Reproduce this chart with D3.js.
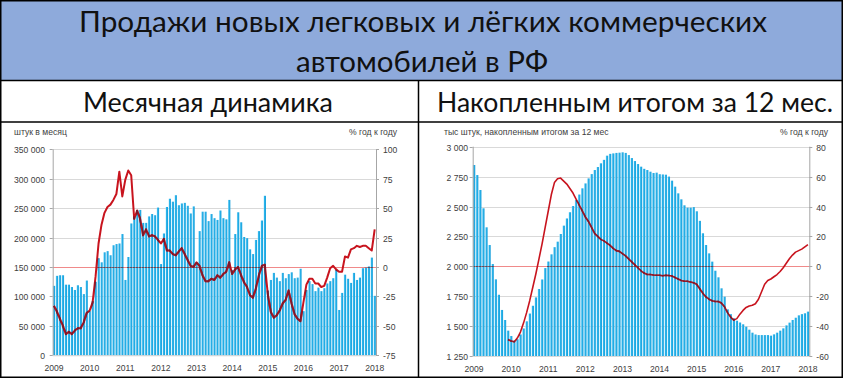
<!DOCTYPE html>
<html>
<head>
<meta charset="utf-8">
<script src="https://cdn.jsdelivr.net/npm/d3@7"></script>
<style>
  body { margin: 0; background: #fff; }
  svg text { font-family: "Liberation Sans", Arial, sans-serif; }
</style>
</head>
<body>
<script>
// categories: Jan 2009 .. Jan 2018
var years = ["2009", "2010", "2011", "2012", "2013", "2014", "2015", "2016", "2017", "2018"];
var months = [];
years.forEach(function(y) {
  for (var m = 1; m <= 12; m++) {
    if (y === "2018" && m > 1) break;
    months.push(y + "-" + (m < 10 ? "0" + m : m));
  }
});

// left panel: штук в месяц (тыс)
var monthlySales = [
  118, 135, 136, 136, 120, 120, 116, 111, 119, 116, 104, 127,
  75, 92, 125, 165, 158, 175, 177, 170, 187, 189, 190, 206,
  128, 167, 224, 236, 247, 247, 225, 225, 236, 240, 238, 251,
  155, 207, 252, 266, 261, 272, 255, 258, 259, 254, 241, 253,
  158, 211, 244, 244, 228, 240, 233, 230, 246, 233, 231, 264,
  145, 206, 243, 226, 201, 199, 180, 172, 196, 211, 229, 271,
  110, 128, 140, 132, 126, 140, 131, 138, 141, 131, 132, 147,
  75, 111, 126, 121, 109, 115, 109, 114, 122, 126, 131, 145,
  77, 106, 137, 130, 123, 140, 128, 132, 148, 149, 151, 166,
  101
];
// left panel: % год к году
var monthlyYoY = [
  -33, -38, -44, -50, -57, -55, -57, -54, -52, -52, -47, -39,
  -37, -30, -8, 20, 36, 46, 51, 53, 57, 62, 81, 60,
  74, 82, 78, 41, 48, 41, 27, 32, 26, 27, 26, 23,
  20, 24, 14, 14, 11, 10, 13, 16, 11, 6, 1, 0,
  4, 1, -7, -12, -12, -10, -11, -7, -9, -6, -4, 4,
  -6, -2, 0, -7, -13, -17, -24, -26, -18, -7, 1, 2,
  -23, -38, -43, -41, -37, -31, -28, -20, -31, -40, -44, -46,
  -30, -15, -10, -10, -14, -14, -17, -16, -9, -1, 1, -2,
  -4, -4, 9, 8, 15, 16, 18, 17, 18, 18, 16, 14,
  32
];

// right panel: тыс штук, накопленным итогом за 12 мес
var rollingSales = [
  2847, 2763, 2638, 2485, 2326, 2178, 2019, 1891, 1762, 1635, 1551, 1462,
  1417, 1378, 1390, 1430, 1480, 1540, 1605, 1670, 1740, 1810, 1890, 1985,
  2040, 2100, 2160, 2206, 2270, 2340, 2400, 2452, 2504, 2554, 2600, 2652,
  2693, 2735, 2771, 2805, 2830, 2861, 2890, 2925, 2940, 2944, 2948, 2950,
  2953, 2948, 2930, 2905, 2880, 2855, 2833, 2815, 2805, 2791, 2780, 2783,
  2770, 2768, 2766, 2750, 2716, 2666, 2610, 2560, 2510, 2490, 2490, 2495,
  2460, 2380, 2276, 2178, 2108, 2039, 1963, 1908, 1816, 1746, 1640, 1600,
  1565, 1545, 1530, 1515, 1495, 1470, 1445, 1430, 1425, 1425, 1425, 1425,
  1420, 1431, 1445, 1462, 1481, 1506, 1529, 1551, 1570, 1590, 1600, 1607,
  1621
];
// right panel: % год к году (с декабря 2009)
var rollingYoY = [
  null, null, null, null, null, null, null, null, null, null, null, -49,
  -50, -50.5, -48, -44, -38, -31, -23, -14, -5, 5, 15, 26,
  37, 48, 56, 58.5, 59, 57, 55, 52, 49, 45, 41, 37,
  33, 30, 26, 22, 20, 18, 17, 15.5, 14, 12, 10.5, 10,
  8.5, 7, 5, 3, 1, -1, -3, -4.5, -5.5, -5.5, -5.8, -6,
  -6, -6.3, -6, -6.2, -6.5, -7.5, -8.5, -9.5, -10, -10, -10.5, -11,
  -12, -15, -18, -20.5, -22, -23, -23.5, -23.5, -24.5, -27, -31, -34,
  -36, -35, -32, -29.5, -27.5, -26.5, -26, -25, -22, -17, -12, -9.5,
  -8.5, -7, -5.5, -3.5, -1, 2, 5, 7.5, 9.5, 10.5, 11.5, 13,
  14.5
];

var leftTicks = [0, 50000, 100000, 150000, 200000, 250000, 300000, 350000];
var leftPctTicks = [-75, -50, -25, 0, 25, 50, 75, 100];
var rightTicks = [1250, 1500, 1750, 2000, 2250, 2500, 2750, 3000];
var rightPctTicks = [-60, -40, -20, 0, 20, 40, 60, 80];

var width = 843, height = 378;
var textColor = "#404040";

var svg = d3.select("body").append("svg")
  .attr("width", width)
  .attr("height", height);

var defs = svg.append("defs");
var grad = defs.append("linearGradient")
  .attr("id", "barFill")
  .attr("x1", 0).attr("x2", 1).attr("y1", 0).attr("y2", 0);
grad.append("stop").attr("offset", "0%").attr("stop-color", "#a6e3fb");
grad.append("stop").attr("offset", "35%").attr("stop-color", "#29b3ea");
grad.append("stop").attr("offset", "100%").attr("stop-color", "#1a9fda");

//header
svg.append("rect")
  .attr("x", 1).attr("y", 1)
  .attr("width", width - 2).attr("height", 79)
  .attr("fill", "#8eaadb");

var titleFont = "Lato, 'Open Sans', sans-serif";
svg.append("text")
  .attr("x", 423).attr("y", 32)
  .attr("text-anchor", "middle")
  .attr("textLength", 688).attr("lengthAdjust", "spacingAndGlyphs")
  .style("font-family", titleFont).style("font-size", "29px").attr("fill", "#111")
  .text("Продажи новых легковых и лёгких коммерческих");
svg.append("text")
  .attr("x", 422).attr("y", 72)
  .attr("text-anchor", "middle")
  .attr("textLength", 252).attr("lengthAdjust", "spacingAndGlyphs")
  .style("font-family", titleFont).style("font-size", "29px").attr("fill", "#111")
  .text("автомобилей в РФ");

svg.append("text")
  .attr("x", 208).attr("y", 112)
  .attr("text-anchor", "middle")
  .attr("textLength", 250).attr("lengthAdjust", "spacingAndGlyphs")
  .style("font-family", titleFont).style("font-size", "26px").attr("fill", "#111")
  .text("Месячная динамика");
svg.append("text")
  .attr("x", 635).attr("y", 112)
  .attr("text-anchor", "middle")
  .attr("textLength", 396).attr("lengthAdjust", "spacingAndGlyphs")
  .style("font-family", titleFont).style("font-size", "26px").attr("fill", "#111")
  .text("Накопленным итогом за 12 мес.");

// table borders
var borders = svg.append("g").attr("stroke", "#000").attr("stroke-width", 1.5).attr("fill", "none");
borders.append("rect").attr("x", 0.75).attr("y", 0.75).attr("width", width - 1.5).attr("height", height - 1.5);
borders.append("line").attr("x1", 0).attr("x2", width).attr("y1", 80.5).attr("y2", 80.5);
borders.append("line").attr("x1", 0).attr("x2", width).attr("y1", 122).attr("y2", 122);
borders.append("line").attr("x1", 418.5).attr("x2", 418.5).attr("y1", 80.5).attr("y2", height);

function drawPanel(cfg) {
  var g = svg.append("g");

  var x = d3.scaleBand()
    .domain(months)
    .range([cfg.left, cfg.right])
    .paddingInner(0.22)
    .paddingOuter(0.05);
  var y = d3.scaleLinear().domain(cfg.yDomain).range([cfg.bottom, cfg.top]);
  var y2 = d3.scaleLinear().domain(cfg.pctDomain).range([cfg.bottom, cfg.top]);

  // gridlines
  g.append("g").selectAll("line")
    .data(cfg.ticks)
    .join("line")
      .attr("x1", cfg.left).attr("x2", cfg.right)
      .attr("y1", function(d) { return Math.round(y(d)) + 0.5; })
      .attr("y2", function(d) { return Math.round(y(d)) + 0.5; })
      .attr("stroke", "#d9d9d9").attr("stroke-width", 1);

  // bars
  var barData = months.map(function(m, i) { return {m: m, v: cfg.bars[i]}; });
  g.append("g").selectAll("rect")
    .data(barData)
    .join("rect")
      .attr("x", function(d) { return x(d.m); })
      .attr("width", x.bandwidth())
      .attr("y", function(d) { return y(d.v); })
      .attr("height", function(d) { return cfg.bottom - y(d.v); })
      .attr("fill", "url(#barFill)");

  // clip to bars, for lines drawn over them
  var clip = defs.append("clipPath").attr("id", cfg.id + "-clip");
  clip.selectAll("rect")
    .data(barData)
    .join("rect")
      .attr("x", function(d) { return x(d.m); })
      .attr("width", x.bandwidth())
      .attr("y", function(d) { return y(d.v); })
      .attr("height", function(d) { return cfg.bottom - y(d.v); });

  // zero line
  var zy = Math.round(y2(0)) + 0.5;
  g.append("line")
    .attr("x1", cfg.left).attr("x2", cfg.right)
    .attr("y1", zy).attr("y2", zy)
    .attr("stroke", "#f08a8a").attr("stroke-width", 1);
  g.append("line")
    .attr("x1", cfg.left).attr("x2", cfg.right)
    .attr("y1", zy).attr("y2", zy)
    .attr("clip-path", "url(#" + cfg.id + "-clip)")
    .attr("stroke", "#4d4f63").attr("stroke-width", 1);

  // axes lines
  g.append("line")
    .attr("x1", cfg.left + 0.5).attr("x2", cfg.left + 0.5)
    .attr("y1", cfg.top).attr("y2", cfg.bottom)
    .attr("stroke", "#a6a6a6");
  g.append("line")
    .attr("x1", cfg.right + 0.5).attr("x2", cfg.right + 0.5)
    .attr("y1", cfg.top).attr("y2", cfg.bottom)
    .attr("stroke", "#a6a6a6");
  g.append("line")
    .attr("x1", cfg.left).attr("x2", cfg.right)
    .attr("y1", cfg.bottom + 0.5).attr("y2", cfg.bottom + 0.5)
    .attr("stroke", "#d9d9d9");

  // left axis
  var fmt = function(d) { return d3.format(",")(d).replace(/,/g, " "); };
  var la = g.append("g").selectAll("g")
    .data(cfg.ticks)
    .join("g")
      .attr("transform", function(d) { return "translate(0," + (Math.round(y(d)) + 0.5) + ")"; });
  la.append("line")
    .attr("x1", cfg.left - 3).attr("x2", cfg.left)
    .attr("stroke", "#a6a6a6");
  la.append("text")
    .attr("x", cfg.labelRightEdge)
    .attr("dy", "0.35em")
    .attr("text-anchor", "end")
    .style("font-size", "8.6px").attr("fill", textColor)
    .text(fmt);

  // right axis
  var ra = g.append("g").selectAll("g")
    .data(cfg.pctTicks)
    .join("g")
      .attr("transform", function(d) { return "translate(0," + (Math.round(y2(d)) + 0.5) + ")"; });
  ra.append("line")
    .attr("x1", cfg.right).attr("x2", cfg.right + 3)
    .attr("stroke", "#a6a6a6");
  ra.append("text")
    .attr("x", cfg.right + 7)
    .attr("dy", "0.35em")
    .style("font-size", "8.6px").attr("fill", textColor)
    .text(function(d) { return d; });

  // years
  g.append("g").selectAll("text")
    .data(years)
    .join("text")
      .attr("x", function(d) { return x(d + "-01") + x.bandwidth() / 2; })
      .attr("y", cfg.bottom + 16)
      .attr("text-anchor", "middle")
      .style("font-size", "8.6px").attr("fill", textColor)
      .text(function(d) { return d; });

  // captions
  g.append("text")
    .attr("x", cfg.captionX).attr("y", 135)
    .style("font-size", "8.6px").attr("fill", textColor)
    .text(cfg.caption);
  g.append("text")
    .attr("x", cfg.pctCaptionX).attr("y", 135)
    .attr("text-anchor", "end")
    .style("font-size", "8.6px").attr("fill", textColor)
    .text("% год к году");

  // yoy line
  var lineData = months.map(function(m, i) { return {m: m, v: cfg.line[i]}; });
  var line = d3.line()
    .defined(function(d) { return d.v != null; })
    .x(function(d) { return x(d.m) + x.bandwidth() / 2; })
    .y(function(d) { return y2(d.v); });
  g.append("path")
    .datum(lineData)
    .attr("d", line)
    .attr("fill", "none")
    .attr("stroke", "#c8141e")
    .attr("stroke-width", cfg.lineWidth)
    .attr("stroke-linejoin", "round");
  g.append("path")
    .datum(lineData)
    .attr("d", line)
    .attr("clip-path", "url(#" + cfg.id + "-clip)")
    .attr("fill", "none")
    .attr("stroke", "#7a1a2c")
    .attr("stroke-width", cfg.lineWidth)
    .attr("stroke-linejoin", "round");
}

drawPanel({
  id: "monthly",
  left: 52.7, right: 376, top: 149.3, bottom: 355.3,
  yDomain: [0, 350000], pctDomain: [-75, 100],
  ticks: leftTicks, pctTicks: leftPctTicks,
  bars: monthlySales.map(function(d) { return d * 1000; }),
  line: monthlyYoY,
  labelRightEdge: 45,
  captionX: 14, caption: "штук в месяц", pctCaptionX: 397,
  lineWidth: 2
});

drawPanel({
  id: "rolling",
  left: 472.7, right: 809.3, top: 146.7, bottom: 356,
  yDomain: [1250, 3000], pctDomain: [-60, 80],
  ticks: rightTicks, pctTicks: rightPctTicks,
  bars: rollingSales,
  line: rollingYoY,
  labelRightEdge: 468,
  captionX: 444, caption: "тыс штук, накопленным итогом за 12 мес", pctCaptionX: 828,
  lineWidth: 1.6
});
</script>
</body>
</html>
